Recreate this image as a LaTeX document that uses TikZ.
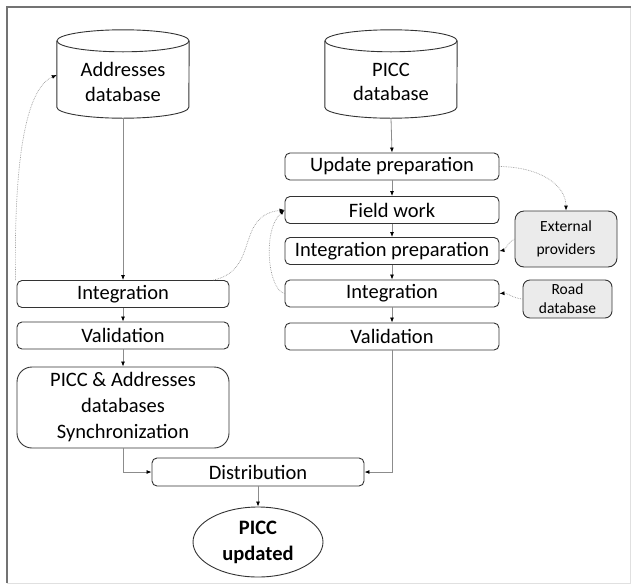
\documentclass[tikz,border=0pt]{standalone}
\usepackage{fontspec}
\setmainfont{Carlito}
\usetikzlibrary{arrows.meta,shapes.geometric}
\tikzstyle{task}=[rectangle, draw=black!80, line width=0.9pt, rounded corners=5pt, inner sep=0pt, font=\fontsize{20.5}{26}\selectfont, align=center]
\tikzstyle{source}=[rectangle, draw=black!80, line width=0.9pt, fill=black!8, rounded corners=9pt, inner sep=0pt, font=\fontsize{15.5}{19}\selectfont, align=center]
\tikzstyle{store}=[rectangle, minimum height=60pt, inner sep=0pt, font=\fontsize{20.5}{24.5}\selectfont, align=center]
\tikzstyle{dbline}=[draw=black!80, line width=0.9pt]
\tikzstyle{flow}=[draw=black!45, line width=0.8pt, -{Latex[length=5pt,width=4pt,black]}]
\tikzstyle{link}=[draw=black!40, line width=0.7pt, densely dotted, -{Latex[length=5pt,width=4pt,black]}]
\newcommand{\taskbox}{\node[task]}
% drum outline round a store node: lid above, rounded base below
\newcommand{\drum}[1]{%
  \draw[dbline] ([yshift=11pt]#1.north) ellipse [x radius=66pt, y radius=11pt];
  \draw[dbline] ([yshift=11pt]#1.north west) -- ([yshift=5pt]#1.south west)
    arc [start angle=180, end angle=360, x radius=66pt, y radius=11pt] -- ([yshift=11pt]#1.north east);}

\begin{document}
\begin{tikzpicture}[x=1pt, y=-1pt]
\useasboundingbox (0,0) rectangle (631,584);
% frame
\draw[black!12, line width=1pt] (630,7) -- (630,583) -- (7,583);
\draw[black!55, line width=1.6pt] (7,583) -- (7,7) -- (631,7);

% databases
\node[store, minimum width=132pt] (addr) at (123,82) {Addresses\\database};
\node[store, minimum width=132pt] (picc) at (391,82) {PICC\\database};
\drum{addr}
\drum{picc}

% right column
\taskbox[minimum width=214pt, minimum height=27pt] (prep)  at (392,166.5) {Update preparation};
\taskbox[minimum width=214pt, minimum height=27pt] (field) at (392,210) {Field work};
\taskbox[minimum width=214pt, minimum height=27pt] (intp)  at (392,251) {Integration preparation};
\taskbox[minimum width=214pt, minimum height=27pt] (rint)  at (392,293.5) {Integration};
\taskbox[minimum width=214pt, minimum height=27pt] (rval)  at (392,336.5) {Validation};

% outside sources
\node[source, minimum width=102pt, minimum height=56pt, font=\fontsize{15.5}{23}\selectfont] (ext)  at (566,239) {External\\providers};
\node[source, minimum width=89pt, minimum height=38pt, rounded corners=7pt] (road) at (567.5,299) {Road\\database};

% left column
\taskbox[minimum width=212pt, minimum height=27pt] (lint) at (123,294) {Integration};
\taskbox[minimum width=212pt, minimum height=27pt] (lval) at (123,335.5) {Validation};
\taskbox[minimum width=212pt, minimum height=81pt, rounded corners=15pt] (sync) at (123,407.5) {PICC \& Addresses\\databases\\Synchronization};

% output
\taskbox[minimum width=212pt, minimum height=28pt] (dist) at (258,472) {Distribution};
\node[ellipse, draw=black!80, line width=0.9pt, minimum width=130pt, minimum height=70pt, inner sep=0pt, align=center,
      font=\fontsize{20.5}{26}\selectfont\bfseries] (done) at (258,542) {PICC\\updated};

\path[flow] ([yshift=-6pt]picc.south) -- (prep.north);
\path[flow] (prep) -- (field);
\path[flow] (field) -- (intp);
\path[flow] (intp) -- (rint);
\path[flow] (rint) -- (rval);
\path[flow] ([yshift=-6pt]addr.south) -- (lint.north);
\path[flow] (lint) -- (lval);
\path[flow] (lval) -- (sync);
\path[flow] (sync.south) |- (dist.west);
\path[flow] (rval.south) |- (dist.east);
\path[flow] (dist) -- (done);

\path[link] (lint.north west) ++(-1,0) .. controls (14,180) and (22,90) .. ([yshift=7pt]addr.west);
\path[link] (lint.north east) ++(-16,0) .. controls (260,270) and (235,215) .. (field.west);
\path[link] (rint.west) .. controls (268,290) and (262,230) .. (field.west);
\path[link] (prep.east) .. controls (540,167) and (566,185) .. (ext.north);
\path[link] (ext.west) .. controls (508,242) and (505,250) .. (intp.east);
\path[link] (road.west) .. controls (512,298) and (508,293) .. (rint.east);
\end{tikzpicture}
\end{document}
